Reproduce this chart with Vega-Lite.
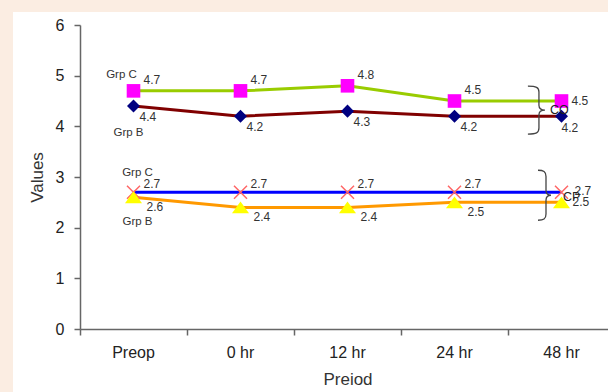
{
  "$schema": "https://vega.github.io/schema/vega-lite/v6.json",
  "width": 595,
  "height": 380,
  "autosize": {"type": "none"},
  "padding": {"left": 13, "top": 12, "right": 0, "bottom": 0},
  "background": "#FBEDE2",
  "config": {"view": {"fill": "white", "stroke": null}, "font": "Liberation Sans"},
  "datasets": {
    "series": [
      {"period": "Preop", "value": 4.7, "series": "CO Grp C"},
      {"period": "0 hr", "value": 4.7, "series": "CO Grp C"},
      {"period": "12 hr", "value": 4.8, "series": "CO Grp C"},
      {"period": "24 hr", "value": 4.5, "series": "CO Grp C"},
      {"period": "48 hr", "value": 4.5, "series": "CO Grp C"},
      {"period": "Preop", "value": 4.4, "series": "CO Grp B"},
      {"period": "0 hr", "value": 4.2, "series": "CO Grp B"},
      {"period": "12 hr", "value": 4.3, "series": "CO Grp B"},
      {"period": "24 hr", "value": 4.2, "series": "CO Grp B"},
      {"period": "48 hr", "value": 4.2, "series": "CO Grp B"},
      {"period": "Preop", "value": 2.7, "series": "CP Grp C"},
      {"period": "0 hr", "value": 2.7, "series": "CP Grp C"},
      {"period": "12 hr", "value": 2.7, "series": "CP Grp C"},
      {"period": "24 hr", "value": 2.7, "series": "CP Grp C"},
      {"period": "48 hr", "value": 2.7, "series": "CP Grp C"},
      {"period": "Preop", "value": 2.6, "series": "CP Grp B"},
      {"period": "0 hr", "value": 2.4, "series": "CP Grp B"},
      {"period": "12 hr", "value": 2.4, "series": "CP Grp B"},
      {"period": "24 hr", "value": 2.5, "series": "CP Grp B"},
      {"period": "48 hr", "value": 2.5, "series": "CP Grp B"}
    ]
  },
  "encoding": {
    "x": {
      "field": "period", "type": "nominal",
      "sort": ["Preop", "0 hr", "12 hr", "24 hr", "48 hr"],
      "scale": {"type": "band", "domain": ["Preop", "0 hr", "12 hr", "24 hr", "48 hr"], "range": [67, 602], "paddingInner": 0, "paddingOuter": 0},
      "axis": {
        "title": "Preiod", "labelAngle": 0, "bandPosition": 0, "offset": -63,
        "tickSize": 6, "tickColor": "#666", "tickWidth": 1.5, "domainColor": "#666", "domainWidth": 1.5,
        "labelFontSize": 16, "labelColor": "#222", "labelPadding": 9,
        "titleFontSize": 17, "titleFontWeight": "normal", "titleColor": "#333", "titlePadding": 11, "grid": false
      }
    },
    "y": {
      "field": "value", "type": "quantitative",
      "scale": {"domain": [0, 6], "range": [317, 13], "nice": false},
      "axis": {
        "title": "Values", "values": [0, 1, 2, 3, 4, 5, 6], "offset": -67,
        "tickSize": 6, "tickColor": "#666", "tickWidth": 1.5, "domainColor": "#666", "domainWidth": 1.5,
        "labelFontSize": 16, "labelColor": "#222", "labelPadding": 10,
        "titleFontSize": 17, "titleFontWeight": "normal", "titleColor": "#333", "titlePadding": 9, "grid": false
      }
    }
  },
  "layer": [
    {
      "data": {"name": "series"},
      "mark": {"type": "line", "strokeWidth": 3},
      "encoding": {
        "color": {"field": "series", "type": "nominal", "legend": null,
          "scale": {"domain": ["CO Grp C", "CO Grp B", "CP Grp C", "CP Grp B"], "range": ["#99CC00", "#800000", "#0000FF", "#FF9900"]}},
        "order": {"value": null}
      }
    },
    {
      "data": {"name": "series"},
      "transform": [{"filter": {"field": "series", "equal": "CO Grp C"}}],
      "mark": {"type": "point", "shape": "square", "size": 185, "filled": true, "fill": "#FF00FF", "stroke": null, "opacity": 1}
    },
    {
      "data": {"name": "series"},
      "transform": [{"filter": {"field": "series", "equal": "CO Grp B"}}],
      "mark": {"type": "point", "shape": "diamond", "size": 170, "filled": true, "fill": "#000080", "stroke": null, "opacity": 1}
    },
    {
      "data": {"name": "series"},
      "transform": [{"filter": {"field": "series", "equal": "CP Grp C"}}],
      "mark": {"type": "point", "shape": "M-1,-1L1,1M1,-1L-1,1", "size": 169, "filled": false, "stroke": "#FF6666", "strokeWidth": 1.5, "opacity": 1}
    },
    {
      "data": {"name": "series"},
      "transform": [{"filter": {"field": "series", "equal": "CP Grp B"}}],
      "mark": {"type": "point", "shape": "M0,-0.7L1,0.7L-1,0.7Z", "size": 289, "filled": true, "fill": "#FFFF00", "stroke": null, "opacity": 1}
    },
    {
      "data": {"name": "series"},
      "transform": [{"filter": {"and": [{"field": "series", "equal": "CO Grp C"}, {"not": {"field": "period", "equal": "48 hr"}}]}}],
      "mark": {"type": "text", "align": "left", "baseline": "middle", "dx": 10, "dy": -11, "fontSize": 12, "color": "#333"},
      "encoding": {"text": {"field": "value", "type": "quantitative", "format": ".1f"}}
    },
    {
      "data": {"name": "series"},
      "transform": [{"filter": {"and": [{"field": "series", "equal": "CO Grp C"}, {"field": "period", "equal": "48 hr"}]}}],
      "mark": {"type": "text", "align": "left", "baseline": "middle", "dx": 10, "dy": 0, "fontSize": 12, "color": "#333"},
      "encoding": {"text": {"field": "value", "type": "quantitative", "format": ".1f"}}
    },
    {
      "data": {"name": "series"},
      "transform": [{"filter": {"and": [{"field": "series", "equal": "CO Grp B"}, {"not": {"field": "period", "equal": "48 hr"}}]}}],
      "mark": {"type": "text", "align": "left", "baseline": "middle", "dx": 6, "dy": 11, "fontSize": 12, "color": "#333"},
      "encoding": {"text": {"field": "value", "type": "quantitative", "format": ".1f"}}
    },
    {
      "data": {"name": "series"},
      "transform": [{"filter": {"and": [{"field": "series", "equal": "CO Grp B"}, {"field": "period", "equal": "48 hr"}]}}],
      "mark": {"type": "text", "align": "left", "baseline": "middle", "dx": 0, "dy": 12, "fontSize": 12, "color": "#333"},
      "encoding": {"text": {"field": "value", "type": "quantitative", "format": ".1f"}}
    },
    {
      "data": {"name": "series"},
      "transform": [{"filter": {"and": [{"field": "series", "equal": "CP Grp C"}, {"not": {"field": "period", "equal": "48 hr"}}]}}],
      "mark": {"type": "text", "align": "left", "baseline": "middle", "dx": 10, "dy": -8, "fontSize": 12, "color": "#333"},
      "encoding": {"text": {"field": "value", "type": "quantitative", "format": ".1f"}}
    },
    {
      "data": {"name": "series"},
      "transform": [{"filter": {"and": [{"field": "series", "equal": "CP Grp C"}, {"field": "period", "equal": "48 hr"}]}}],
      "mark": {"type": "text", "align": "left", "baseline": "middle", "dx": 13, "dy": -1, "fontSize": 12, "color": "#333"},
      "encoding": {"text": {"field": "value", "type": "quantitative", "format": ".1f"}}
    },
    {
      "data": {"name": "series"},
      "transform": [{"filter": {"and": [{"field": "series", "equal": "CP Grp B"}, {"not": {"field": "period", "equal": "48 hr"}}]}}],
      "mark": {"type": "text", "align": "left", "baseline": "middle", "dx": 13, "dy": 10, "fontSize": 12, "color": "#333"},
      "encoding": {"text": {"field": "value", "type": "quantitative", "format": ".1f"}}
    },
    {
      "data": {"name": "series"},
      "transform": [{"filter": {"and": [{"field": "series", "equal": "CP Grp B"}, {"field": "period", "equal": "48 hr"}]}}],
      "mark": {"type": "text", "align": "left", "baseline": "middle", "dx": 11, "dy": 0, "fontSize": 12, "color": "#333"},
      "encoding": {"text": {"field": "value", "type": "quantitative", "format": ".1f"}}
    },
    {
      "data": {"values": [{"label": "Grp C", "period": "Preop", "value": 5.01}]},
      "mark": {"type": "text", "align": "center", "baseline": "middle", "dx": -12, "fontSize": 11.5, "color": "#333"},
      "encoding": {"text": {"field": "label"}}
    },
    {
      "data": {"values": [{"label": "Grp B", "period": "Preop", "value": 3.87}]},
      "mark": {"type": "text", "align": "center", "baseline": "middle", "dx": -5, "fontSize": 11.5, "color": "#333"},
      "encoding": {"text": {"field": "label"}}
    },
    {
      "data": {"values": [{"label": "Grp C", "period": "Preop", "value": 3.08}, {"label": "Grp B", "period": "Preop", "value": 2.11}]},
      "mark": {"type": "text", "align": "center", "baseline": "middle", "dx": 4, "fontSize": 11.5, "color": "#333"},
      "encoding": {"text": {"field": "label"}}
    },
    {
      "data": {"values": [{"label": "CO", "period": "48 hr", "value": 4.33}]},
      "mark": {"type": "text", "align": "left", "baseline": "middle", "dx": -11.5, "fontSize": 12.5, "color": "#222"},
      "encoding": {"text": {"field": "label"}}
    },
    {
      "data": {"values": [{"label": "CP", "period": "48 hr", "value": 2.6}]},
      "mark": {"type": "text", "align": "left", "baseline": "middle", "dx": 1.5, "fontSize": 12.5, "color": "#222"},
      "encoding": {"text": {"field": "label"}}
    },
    {
      "data": {"values": [{"label": "CO", "period": "48 hr", "value": 4.32}]},
      "mark": {"type": "point", "size": 2304, "filled": false, "stroke": "#444", "strokeWidth": 1.3, "opacity": 1,
        "shape": "M-1.40,-1 C-1.05,-1 -0.94,-0.95 -0.94,-0.75 L-0.94,-0.2 C-0.94,-0.05 -0.85,0 -0.69,0 C-0.85,0 -0.94,0.05 -0.94,0.2 L-0.94,0.75 C-0.94,0.95 -1.05,1 -1.40,1"}
    },
    {
      "data": {"values": [{"label": "CP", "period": "48 hr", "value": 2.64}]},
      "mark": {"type": "point", "size": 2500, "filled": false, "stroke": "#444", "strokeWidth": 1.3, "opacity": 1,
        "shape": "M-0.94,-1 C-0.72,-1 -0.62,-0.95 -0.62,-0.75 L-0.62,-0.2 C-0.62,-0.05 -0.55,0 -0.42,0 C-0.55,0 -0.62,0.05 -0.62,0.2 L-0.62,0.75 C-0.62,0.95 -0.72,1 -0.94,1"}
    }
  ]
}
